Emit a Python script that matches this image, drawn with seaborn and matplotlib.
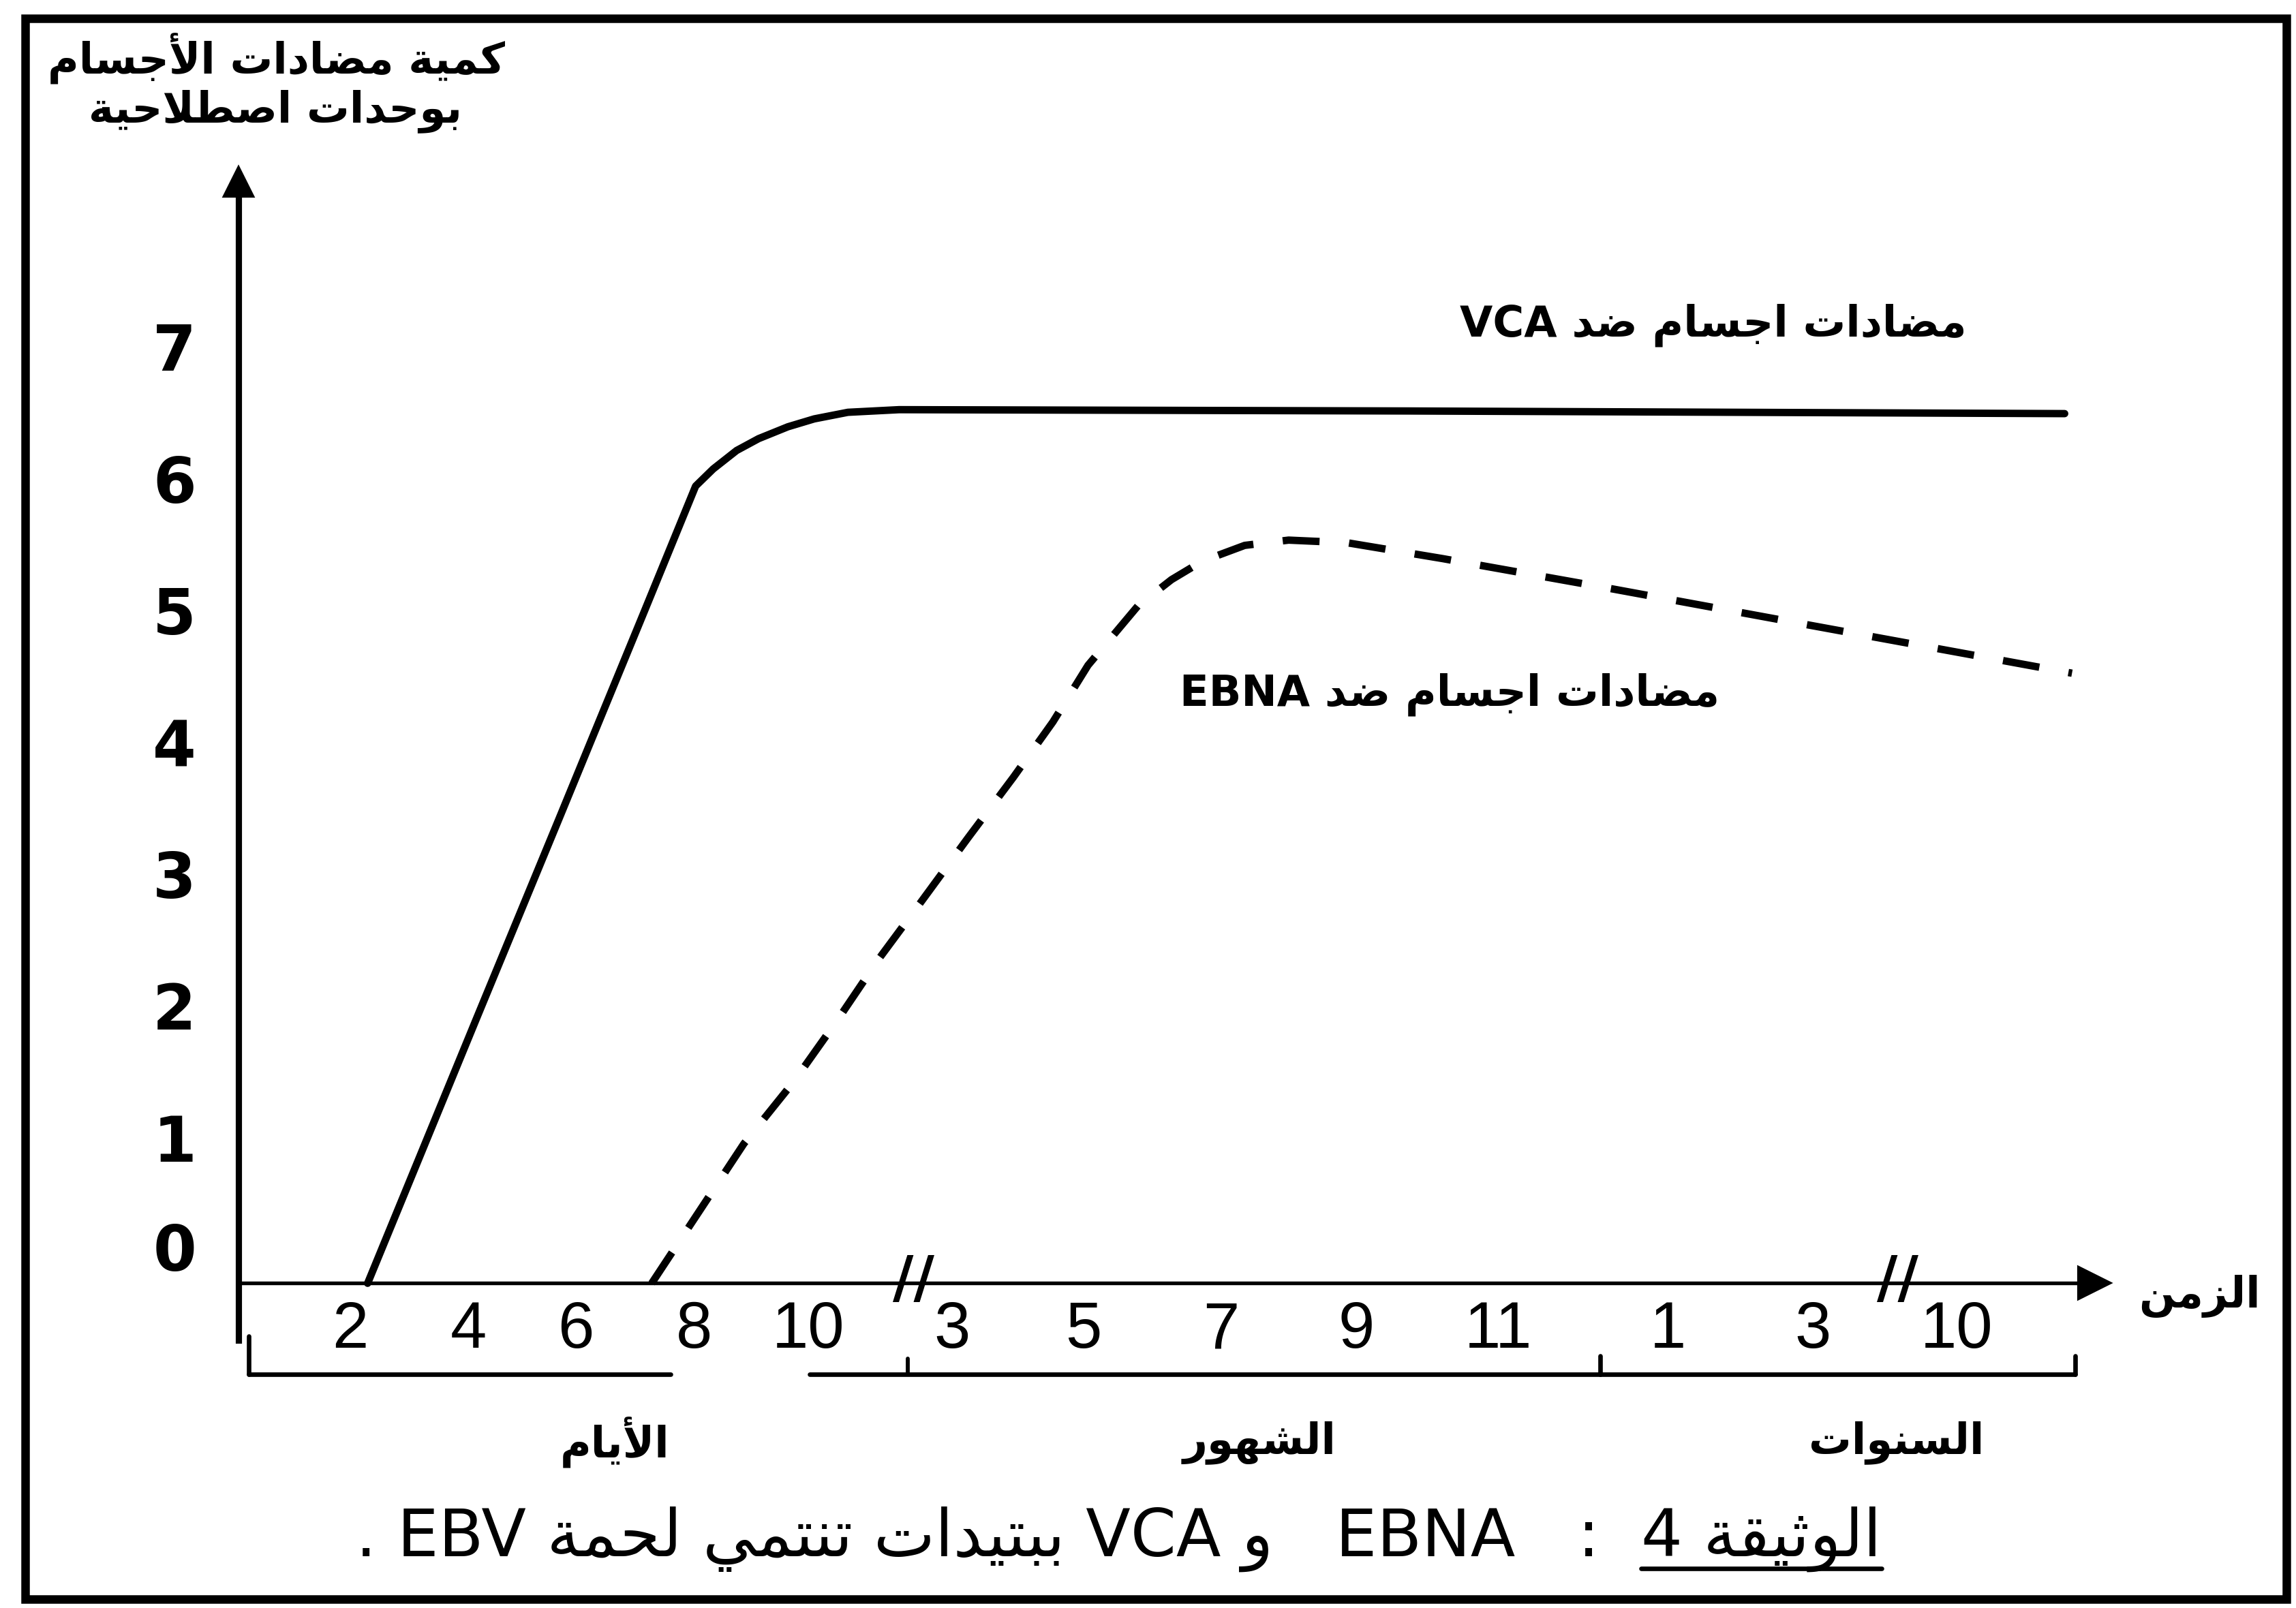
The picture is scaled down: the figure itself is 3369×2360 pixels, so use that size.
import numpy as np
import matplotlib
matplotlib.use("Agg")
import matplotlib.pyplot as plt
import matplotlib.transforms as mtransforms
from matplotlib.patches import Rectangle
from matplotlib.lines import Line2D
import seaborn as sns

# ---- data (x: position along the time axis, y: antibody units)
y_ticks = [0, 1, 2, 3, 4, 5, 6, 7]
x_tick_pos = [0.76, 1.57, 2.30, 3.11, 3.89, 4.87, 5.77, 6.71, 7.63, 8.60, 9.76, 10.75, 11.73]
x_tick_labels = ['2', '4', '6', '8', '10', '3', '5', '7', '9', '11', '1', '3', '10']
break_pos = [4.61, 11.33]

vca_x = [0.88, 1.62, 2.20, 2.47, 2.77, 3.12, 3.24, 3.40, 3.55, 3.75, 3.93, 4.16, 4.51, 8.00, 12.47]
vca_y = [0.00, 2.00, 3.56, 4.29, 5.10, 6.05, 6.18, 6.32, 6.41, 6.50, 6.56, 6.61, 6.63, 6.62, 6.60]

ebna_x = [2.82, 3.45, 3.79, 4.09, 4.37, 4.67, 4.98, 5.29, 5.56, 5.80, 6.14, 6.37, 6.58, 6.87, 7.17, 7.57,
          8.22, 9.38, 10.75, 12.52]
ebna_y = [0.00, 1.06, 1.53, 2.00, 2.46, 2.91, 3.38, 3.84, 4.26, 4.69, 5.14, 5.34, 5.48, 5.60, 5.64, 5.62,
          5.50, 5.27, 4.99, 4.63]

group_names = ['الأيام', 'الشهور', 'السنوات']
group_start = [0.07, 3.90, 9.30]
group_end = [2.95, 9.30, 12.54]
group_label_x = [2.57, 6.97, 11.32]

# ---- minimal arabic shaping (matplotlib has no bidi / joining)
_forms = {'ا': (0xFE8D, 'R'), 'أ': (0xFE83, 'R'), 'إ': (0xFE87, 'R'), 'آ': (0xFE81, 'R'),
          'ب': (0xFE8F, 'D'), 'ة': (0xFE93, 'R'), 'ت': (0xFE95, 'D'), 'ث': (0xFE99, 'D'),
          'ج': (0xFE9D, 'D'), 'ح': (0xFEA1, 'D'), 'خ': (0xFEA5, 'D'), 'د': (0xFEA9, 'R'),
          'ذ': (0xFEAB, 'R'), 'ر': (0xFEAD, 'R'), 'ز': (0xFEAF, 'R'), 'س': (0xFEB1, 'D'),
          'ش': (0xFEB5, 'D'), 'ص': (0xFEB9, 'D'), 'ض': (0xFEBD, 'D'), 'ط': (0xFEC1, 'D'),
          'ظ': (0xFEC5, 'D'), 'ع': (0xFEC9, 'D'), 'غ': (0xFECD, 'D'), 'ف': (0xFED1, 'D'),
          'ق': (0xFED5, 'D'), 'ك': (0xFED9, 'D'), 'ل': (0xFEDD, 'D'), 'م': (0xFEE1, 'D'),
          'ن': (0xFEE5, 'D'), 'ه': (0xFEE9, 'D'), 'و': (0xFEED, 'R'), 'ى': (0xFEEF, 'R'),
          'ي': (0xFEF1, 'D')}
_lamalef = {'ا': 0xFEFB, 'أ': 0xFEF7, 'إ': 0xFEF9, 'آ': 0xFEF5}


def ar(s):
    out = []
    i = 0
    while i < len(s):
        c = s[i]
        if c not in _forms:
            out.append(c)
            i += 1
            continue
        prev = s[i - 1] if i > 0 else None
        joins_prev = prev in _forms and _forms[prev][1] == 'D'
        if c == 'ل' and i + 1 < len(s) and s[i + 1] in _lamalef:
            out.append(chr(_lamalef[s[i + 1]] + (1 if joins_prev else 0)))
            i += 2
            continue
        nxt = s[i + 1] if i + 1 < len(s) else None
        joins_next = _forms[c][1] == 'D' and nxt in _forms
        if joins_prev and joins_next:
            f = 3
        elif joins_prev:
            f = 1
        elif joins_next:
            f = 2
        else:
            f = 0
        out.append(chr(_forms[c][0] + f))
        i += 1
    return ''.join(out)[::-1]


sns.set_style("white")
plt.rcParams['font.family'] = ['DejaVu Sans']
plt.rcParams.update({'text.color': 'black', 'xtick.color': 'black', 'ytick.color': 'black',
                     'axes.labelcolor': 'black'})

fig = plt.figure(figsize=(3369 / 300, 2360 / 300), dpi=300)
ax = fig.add_axes([0.104, 0.1667, 0.912 - 0.104, 0.887 - 0.1667])
ax.patch.set_alpha(0)

sns.lineplot(x=vca_x, y=vca_y, ax=ax, color='black', lw=2.6)
sns.lineplot(x=ebna_x, y=ebna_y, ax=ax, color='black', lw=2.6, linestyle=(0, (5, 4)))

xmax, ymax = 12.67, 8.36
ax.set_xlim(0, xmax)
ax.set_ylim(-0.43, ymax)

for s in ['top', 'right']:
    ax.spines[s].set_visible(False)
ax.spines['bottom'].set_position(('data', 0))
ax.spines['bottom'].set_bounds(0, xmax)
ax.spines['bottom'].set_linewidth(1.3)
ax.spines['left'].set_linewidth(2.2)
for s in ['bottom', 'left']:
    ax.spines[s].set_color('black')

# axis arrow heads
ax.plot([xmax], [0], marker='>', ms=11, color='black', clip_on=False)
ax.plot([0], [ymax], marker='^', ms=10, color='black', clip_on=False)

ax.set_xticks(x_tick_pos)
ax.set_xticklabels(x_tick_labels, fontsize=23, family=['Liberation Sans Narrow', 'Liberation Sans'])
ax.tick_params(axis='x', direction='in', length=7, width=1.3, pad=6, color='black')

ax.set_yticks(y_ticks)
ax.set_yticklabels([str(v) for v in y_ticks], fontsize=22, fontweight='bold')
ax.tick_params(axis='y', direction='out', length=4, width=1.2, pad=11, color='black')
for lab, v in zip(ax.get_yticklabels(), y_ticks):
    up = 13 if v == 0 else 5
    lab.set_transform(lab.get_transform() + mtransforms.ScaledTranslation(0, up / 72, fig.dpi_scale_trans))
ax.set_xlabel('')
ax.set_ylabel('')

# axis breaks
for bp in break_pos:
    ax.text(bp, 0.02, '//', ha='center', va='center', fontsize=20, fontweight='bold', clip_on=False)

# group brackets under the time axis
bl = -0.69
for i, (a, b) in enumerate(zip(group_start, group_end)):
    ax.plot([a, b], [bl, bl], color='black', lw=1.6, clip_on=False)
    if i == 0:
        ax.plot([a, a], [bl, -0.40], color='black', lw=1.6, clip_on=False)
    else:
        ax.plot([b, b], [bl, bl + 0.14], color='black', lw=1.6, clip_on=False)
ax.plot([4.57, 4.57], [bl, bl + 0.12], color='black', lw=1.4, clip_on=False)
for name, gx in zip(group_names, group_label_x):
    ax.text(gx, -1.21, ar(name), ha='center', va='center', fontsize=15, fontweight='bold', clip_on=False)

ax.text(13.39, -0.10, ar('الزمن'), ha='center', va='center', fontsize=15, fontweight='bold', clip_on=False)

# curve labels
ax.text(10.07, 7.27, 'VCA ' + ar('مضادات اجسام ضد'), ha='center', va='center', fontsize=15, fontweight='bold')
ax.text(8.27, 4.47, 'EBNA ' + ar('مضادات اجسام ضد'), ha='center', va='center', fontsize=15, fontweight='bold')

# y axis title
fig.text(0.1205, 0.9636, ar('كمية مضادات الأجسام'), ha='center', va='center', fontsize=15, fontweight='bold')
fig.text(0.1200, 0.9310, ar('بوحدات اصطلاحية'), ha='center', va='center', fontsize=15, fontweight='bold')

# caption
cap_y = 0.043
t1 = fig.text(0.8195, cap_y, '4 ' + ar('الوثيقة'), ha='right', va='center', fontsize=23)
fig.canvas.draw()
bb = t1.get_window_extent().transformed(fig.transFigure.inverted())
rest = '. EBV ' + ar('ببتيدات تنتمي لحمة') + ' VCA ' + ar('و') + '   EBNA   :  '
fig.text(bb.x0, cap_y, rest, ha='right', va='center', fontsize=23)
fig.add_artist(Line2D([bb.x0, bb.x1], [bb.y0 + 0.002, bb.y0 + 0.002], transform=fig.transFigure,
                      color='black', lw=1.6))

# scanned page frame
fig.add_artist(Rectangle((0.011, 0.0055), 0.9959 - 0.011, 0.9886 - 0.0055, transform=fig.transFigure,
                         fill=False, lw=3.0, edgecolor='black'))

fig.savefig('out.png', dpi=300, facecolor='white')
